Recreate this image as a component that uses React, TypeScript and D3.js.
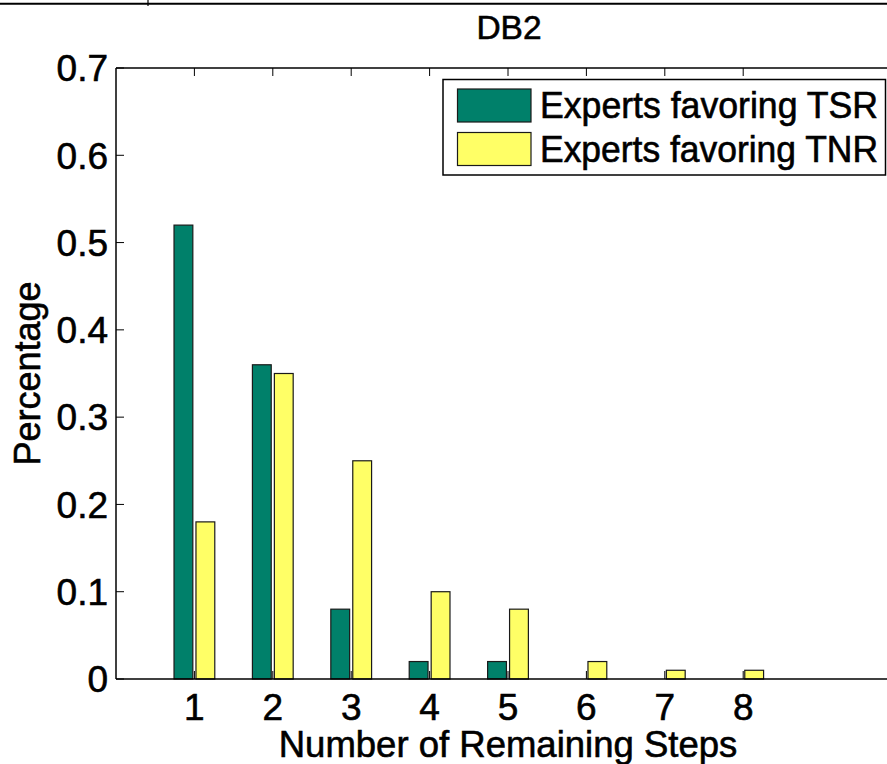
import * as d3 from "d3";

const steps = [1, 2, 3, 4, 5, 6, 7, 8];
const tsrValues = [0.52, 0.36, 0.08, 0.02, 0.02, 0, 0, 0];
const tnrValues = [0.18, 0.35, 0.25, 0.1, 0.08, 0.02, 0.01, 0.01];
const yTicks = [0, 0.1, 0.2, 0.3, 0.4, 0.5, 0.6, 0.7];
const seriesLabels = ["Experts favoring TSR", "Experts favoring TNR"];

const WIDTH = 887;
const HEIGHT = 764;
const FONT = "'Liberation Sans', Arial, Helvetica, sans-serif";
const GREEN = "#00806a";
const YELLOW = "#ffff66";

// heavier text, like the exported figure
const txt = { fontFamily: FONT, stroke: "#000", strokeWidth: 0.6 };

export default function App() {
  const margin = { top: 68, left: 116, bottom: 679, right: 900 };

  const x = d3.scaleLinear().domain([0, 10]).range([margin.left, margin.right]);
  const y = d3.scaleLinear().domain([0, 0.7]).range([margin.bottom, margin.top]);

  const barW = x(0.24) - x(0);
  const offset = x(0.14) - x(0);

  const series = [
    { label: seriesLabels[0], values: tsrValues, color: GREEN, shift: -offset },
    { label: seriesLabels[1], values: tnrValues, color: YELLOW, shift: offset },
  ];

  return (
    <div style={{ position: "fixed", left: 0, top: 0 }}>
      <svg width={WIDTH} height={HEIGHT} style={{ display: "block", background: "#fff" }}>
        {/* bottom edge of the panel above */}
        <line x1={0} x2={WIDTH} y1={3.7} y2={3.7} stroke="#000" strokeWidth={2} />
        <line x1={148} x2={148} y1={0} y2={6} stroke="#000" strokeWidth={1.2} />

        {/* title */}
        <text x={509} y={38.5} textAnchor="middle" fontSize={33.5} {...txt}>
          DB2
        </text>

        {/* bars */}
        {series.map((s) =>
          s.values.map((v, i) => (
            <rect
              key={s.label + i}
              x={x(steps[i]) + s.shift - barW / 2}
              y={y(v)}
              width={barW}
              height={y(0) - y(v)}
              fill={s.color}
              stroke="#1a1a1a"
              strokeWidth={1.2}
            />
          ))
        )}

        {/* axes box (right side is off the page) */}
        <line x1={margin.left} x2={WIDTH + 10} y1={margin.top} y2={margin.top} stroke="#000" strokeWidth={1.5} />
        <line x1={margin.left} x2={WIDTH + 10} y1={margin.bottom} y2={margin.bottom} stroke="#000" strokeWidth={1.5} />
        <line x1={margin.left} x2={margin.left} y1={margin.top} y2={margin.bottom} stroke="#000" strokeWidth={1.5} />

        {/* y ticks */}
        {yTicks.map((t) => (
          <g key={"y" + t}>
            <line x1={margin.left} x2={margin.left + 8} y1={y(t)} y2={y(t)} stroke="#000" strokeWidth={1} />
            <text x={108} y={y(t)} dy="0.36em" textAnchor="end" fontSize={37} {...txt}>
              {t === 0 ? "0" : d3.format(".1f")(t)}
            </text>
          </g>
        ))}

        {/* x ticks */}
        {steps.map((s) => (
          <g key={"x" + s}>
            <line x1={x(s)} x2={x(s)} y1={margin.bottom} y2={margin.bottom - 8} stroke="#000" strokeWidth={1} />
            <line x1={x(s)} x2={x(s)} y1={margin.top} y2={margin.top + 8} stroke="#000" strokeWidth={1} />
            <text x={x(s)} y={720} textAnchor="middle" fontSize={37} {...txt}>
              {s}
            </text>
          </g>
        ))}

        {/* axis labels */}
        <text x={(margin.left + margin.right) / 2} y={757} textAnchor="middle" fontSize={36.5} {...txt}>
          Number of Remaining Steps
        </text>
        <text
          transform={`translate(40, ${(margin.top + margin.bottom) / 2}) rotate(-90)`}
          textAnchor="middle"
          fontSize={36}
          {...txt}
        >
          Percentage
        </text>

        {/* legend */}
        <g>
          <rect x={443} y={79.5} width={442.5} height={95.5} fill="#fff" stroke="#000" strokeWidth={1.5} />
          {series.map((s, i) => (
            <g key={"lg" + i} transform={`translate(0, ${i * 43.5})`}>
              <rect x={457.5} y={89} width={73.5} height={33} fill={s.color} stroke="#1a1a1a" strokeWidth={1.2} />
              <text
                x={540}
                y={105.5}
                dy="0.36em"
                fontSize={36}
                textLength={338}
                lengthAdjust="spacingAndGlyphs"
                {...txt}
              >
                {s.label}
              </text>
            </g>
          ))}
        </g>
      </svg>
    </div>
  );
}
